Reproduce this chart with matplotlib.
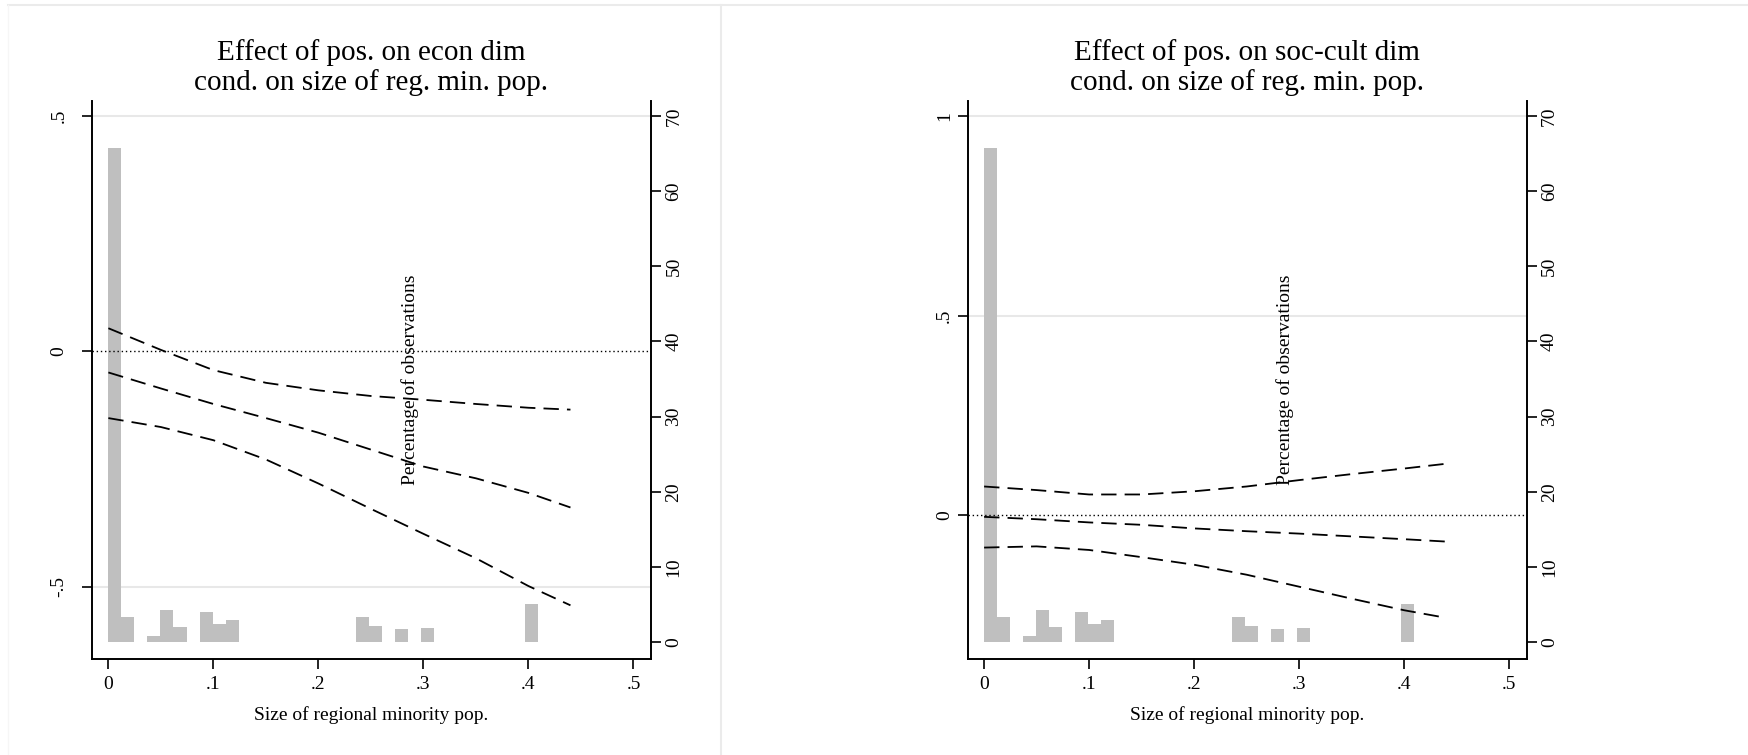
import matplotlib
matplotlib.use("Agg")
import matplotlib.pyplot as plt
from matplotlib.lines import Line2D
from matplotlib import transforms

plt.rcParams['font.family'] = ['Liberation Serif', 'DejaVu Serif']

# Margins
x_pts = [0.0, 0.05, 0.10, 0.15, 0.20, 0.25, 0.30, 0.35, 0.40, 0.44]

econ_upper = [0.049, 0.003, -0.040, -0.067, -0.083, -0.095, -0.103, -0.112, -0.120, -0.124]
econ_mid = [-0.045, -0.079, -0.112, -0.142, -0.173, -0.209, -0.245, -0.270, -0.301, -0.332]
econ_lower = [-0.142, -0.161, -0.189, -0.230, -0.281, -0.335, -0.388, -0.440, -0.499, -0.540]

soc_upper = [0.072, 0.063, 0.052, 0.052, 0.060, 0.072, 0.088, 0.103, 0.117, 0.129]
soc_mid = [-0.004, -0.010, -0.018, -0.024, -0.033, -0.040, -0.046, -0.053, -0.060, -0.066]
soc_lower = [-0.081, -0.078, -0.087, -0.105, -0.124, -0.149, -0.179, -0.209, -0.238, -0.257]

# histogram of regional minority share (percent of observations)
bin_width = 0.0124
bin_index = [0, 1, 3, 4, 5, 7, 8, 9, 19, 20, 22, 24, 32]
bin_pct = [65.7, 3.3, 0.85, 4.2, 2.0, 4.0, 2.4, 3.0, 3.3, 2.1, 1.7, 1.85, 5.0]

x_ticks = [0, 0.1, 0.2, 0.3, 0.4, 0.5]
x_ticklabels = ["0", ".1", ".2", ".3", ".4", ".5"]
pct_ticks = [0, 10, 20, 30, 40, 50, 60, 70]

panels = [
    dict(title="Effect of pos. on econ dim\ncond. on size of reg. min. pop.",
         lines=(econ_upper, econ_mid, econ_lower), ylim=(-0.654, 0.532),
         yticks=[-0.5, 0, 0.5], yticklabels=["-.5", "0", ".5"], left=0.0526, lpad=10),
    dict(title="Effect of pos. on soc-cult dim\ncond. on size of reg. min. pop.",
         lines=(soc_upper, soc_mid, soc_lower), ylim=(-0.360, 1.0375),
         yticks=[0, 0.5, 1], yticklabels=["0", ".5", "1"], left=0.5533, lpad=3),
]

fig = plt.figure(figsize=(17.49, 7.55), dpi=100)

for p in panels:
    ax = fig.add_axes([p['left'], 0.1272, 0.3195, 0.739])
    ax2 = ax.twinx()
    ax.set_zorder(ax2.get_zorder() + 1)
    ax.patch.set_visible(False)

    # histogram on the right axis
    lefts = [i * bin_width for i in bin_index]
    ax2.bar(lefts, bin_pct, width=bin_width, align='edge', color='#bfbfbf',
            edgecolor='none', zorder=2)
    ax2.set_ylim(-2.25, 72)
    ax2.set_yticks(pct_ticks)

    # grid lines from the left scale, kept under the bars
    trans = transforms.blended_transform_factory(ax2.transAxes, ax.transData)
    for v in p['yticks']:
        if v != 0:
            ax2.plot([0, 1], [v, v], color='#e8e8e8', lw=1.5, transform=trans, zorder=1)

    ax.axhline(0, color='black', lw=1.0, ls=(0, (1, 2)))
    for yy in p['lines']:
        ax.plot(x_pts, yy, color='black', lw=1.3, dashes=(8.5, 4.5))

    ax.set_xlim(-0.0156, 0.5165)
    ax.set_ylim(*p['ylim'])
    ax.set_xticks(x_ticks)
    ax.set_xticklabels(x_ticklabels)
    ax.set_yticks(p['yticks'])
    ax.set_yticklabels(p['yticklabels'], rotation=90, va='center')
    ax2.set_yticklabels([str(t) for t in pct_ticks], rotation=90, va='center')

    ax.set_title(p['title'], fontsize=21, linespacing=1.13, pad=8)
    ax.set_xlabel("Size of regional minority pop.", fontsize=14, labelpad=9)
    ax.text(0.5687, 0.5, "Percentage of observations", transform=ax.transAxes,
            rotation=90, ha='center', va='center', fontsize=14)

    for a in (ax, ax2):
        a.spines['top'].set_visible(False)
        for s in ('left', 'right', 'bottom'):
            a.spines[s].set_linewidth(1.4)
    ax.spines['right'].set_visible(False)
    ax2.spines['left'].set_visible(False)
    ax2.spines['bottom'].set_visible(False)
    ax.tick_params(axis='x', length=7.5, width=1.2, labelsize=14, pad=5)
    ax.tick_params(axis='y', length=7.5, width=1.2, labelsize=14, pad=p['lpad'])
    ax2.tick_params(axis='y', length=7.5, width=1.2, labelsize=14, pad=3)

# faint frame of the two exported graphs
frame = '#ebebeb'
fig.add_artist(Line2D([8 / 1749, 719 / 1749], [1 - 5 / 755] * 2, color=frame, lw=1.5))
fig.add_artist(Line2D([722 / 1749, 1.0], [1 - 5 / 755] * 2, color=frame, lw=1.5))
fig.add_artist(Line2D([721 / 1749] * 2, [0, 1 - 5 / 755], color=frame, lw=1.5))
fig.add_artist(Line2D([8 / 1749] * 2, [0, 1 - 5 / 755], color='#f6f6f6', lw=1))

fig.savefig("out.png", dpi=100)
